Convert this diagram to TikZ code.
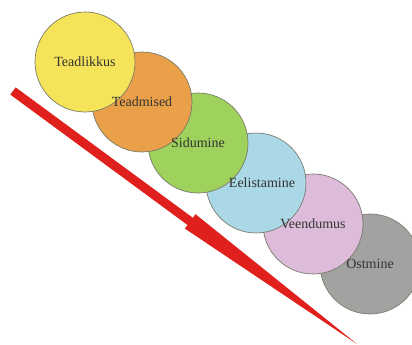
\documentclass[tikz,border=0pt]{standalone}
\usepackage{fontspec}
\setmainfont{Liberation Serif}
\definecolor{cyel}{HTML}{F5E45A}
\definecolor{corg}{HTML}{E9A048}
\definecolor{cgrn}{HTML}{9ED25C}
\definecolor{cblu}{HTML}{ABD8E6}
\definecolor{cpnk}{HTML}{DDBCDA}
\definecolor{cgry}{HTML}{A2A3A1}
\definecolor{cline}{HTML}{77776A}
\definecolor{ctxt}{HTML}{333333}
\definecolor{cred}{HTML}{E0201C}
\begin{document}
\begin{tikzpicture}[x=0.75pt,y=-0.75pt,
  stage/.style={circle,draw=cline,line width=0.5pt,minimum size=75pt,inner sep=0pt},
  stagetext/.style={font=\fontsize{10.5}{12}\selectfont,text=ctxt,inner sep=0pt}]
\useasboundingbox (0,0) rectangle (412,345);
\clip (0,0) rectangle (412,345);
% circles drawn back to front
\node[stage,fill=cgry] (s6) at (370,264) {};
\node[stage,fill=cpnk] (s5) at (313,224) {};
\node[stage,fill=cblu] (s4) at (256,183) {};
\node[stage,fill=cgrn] (s3) at (198,143) {};
\node[stage,fill=corg] (s2) at (142,102) {};
\node[stage,fill=cyel] (s1) at (85,62) {};
% labels on top
\node[stagetext] (l1) at (s1) {Teadlikkus};
\node[stagetext] (l2) at (s2) {Teadmised};
\node[stagetext] (l3) at (s3) {Sidumine};
\node[stagetext] (l4) at ([xshift=4.5pt]s4.center) {Eelistamine};
\node[stagetext] (l5) at (s5) {Veendumus};
\node[stagetext] (l6) at (s6) {Ostmine};
% red arrow
\fill[cred] (10.3,94.6) -- (15.7,87.4) -- (192.9,217.8) -- (195.5,214.2)
  -- (357,344) -- (184.9,228.6) -- (187.5,225.0) -- cycle;
\end{tikzpicture}
\end{document}
